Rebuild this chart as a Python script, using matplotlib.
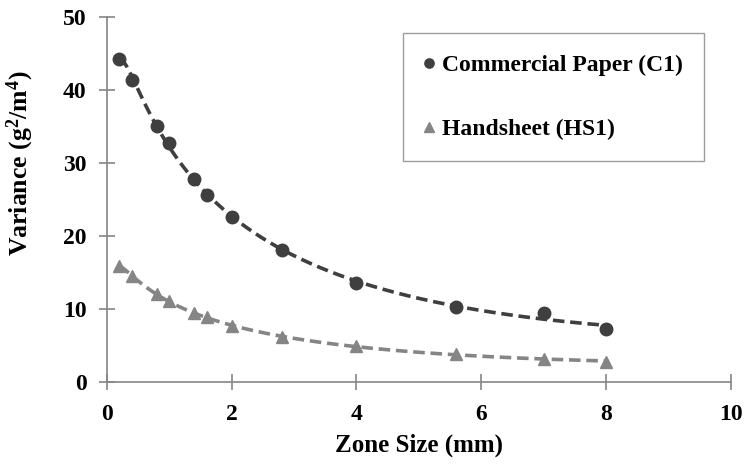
import numpy as np
import matplotlib.pyplot as plt

plt.rcParams.update({
    'font.family': 'Liberation Serif',
    'font.weight': 'bold',
    'font.size': 17,
    'mathtext.fontset': 'custom',
    'mathtext.rm': 'Liberation Serif:bold',
    'mathtext.bf': 'Liberation Serif:bold',
    'mathtext.it': 'Liberation Serif:bold',
})

zone_size = [0.2, 0.4, 0.8, 1.0, 1.4, 1.6, 2.0, 2.8, 4.0, 5.6, 7.0, 8.0]
var_c1 = [44.3, 41.3, 35.1, 32.7, 27.8, 25.6, 22.6, 18.1, 13.5, 10.3, 9.4, 7.3]
var_hs1 = [15.9, 14.5, 12.0, 11.1, 9.4, 8.9, 7.7, 6.1, 4.9, 3.8, 3.2, 2.8]

c1_color = '#3f3f3f'
hs1_color = '#858585'
axis_color = '#858585'


def trend(x, y, xs):
    # smooth trendline fitted to the measured points (log-x polynomial)
    coef = np.polyfit(np.log(x), y, 3)
    return np.polyval(coef, np.log(xs))


fig = plt.figure(figsize=(7.48, 4.65), dpi=100)
ax = fig.add_axes([0.143, 0.1785, 0.834, 0.785])

xs = np.linspace(min(zone_size), max(zone_size), 200)
dash = (0, (3.2, 1.6))
ax.plot(xs, trend(zone_size, var_c1, xs), color=c1_color, lw=2.6, ls=dash)
ax.plot(xs, trend(zone_size, var_hs1, xs), color=hs1_color, lw=2.6, ls=dash)
ax.plot(zone_size, var_c1, 'o', color=c1_color, ms=9, label='Commercial Paper (C1)')
ax.plot(zone_size, var_hs1, '^', color=hs1_color, ms=9, label='Handsheet (HS1)')

ax.set_xlim(0, 10)
ax.set_ylim(0, 50)
ax.set_xticks(np.arange(0, 11, 2))
ax.set_yticks(np.arange(0, 51, 10))
for s in ['top', 'right']:
    ax.spines[s].set_visible(False)
for s in ['left', 'bottom']:
    ax.spines[s].set_color(axis_color)
    ax.spines[s].set_linewidth(1.2)
ax.tick_params(direction='inout', length=11.5, width=1.2, color=axis_color,
               labelsize=17)
ax.tick_params(axis='x', pad=10)
ax.tick_params(axis='y', pad=9)
for lab in ax.get_xticklabels() + ax.get_yticklabels():
    lab.set_fontweight('bold')

ax.set_xlabel('Zone Size (mm)', fontsize=18, fontweight='bold')
ax.xaxis.set_label_coords(0.5, -0.142)
ax.set_ylabel('Variance (g$^{2}$/m$^{4}$)', fontsize=18.5, fontweight='bold')
ax.yaxis.set_label_coords(-0.114, 0.6)

leg = ax.legend(loc='upper left', bbox_to_anchor=(0.474, 0.956), frameon=True,
                fancybox=False, edgecolor=axis_color, fontsize=17,
                labelspacing=1.8, borderpad=0.9, handlelength=0.45,
                handletextpad=0.3, markerscale=0.74, borderaxespad=0)
leg.get_frame().set_linewidth(1.0)

fig.savefig('out.png', dpi=100)
